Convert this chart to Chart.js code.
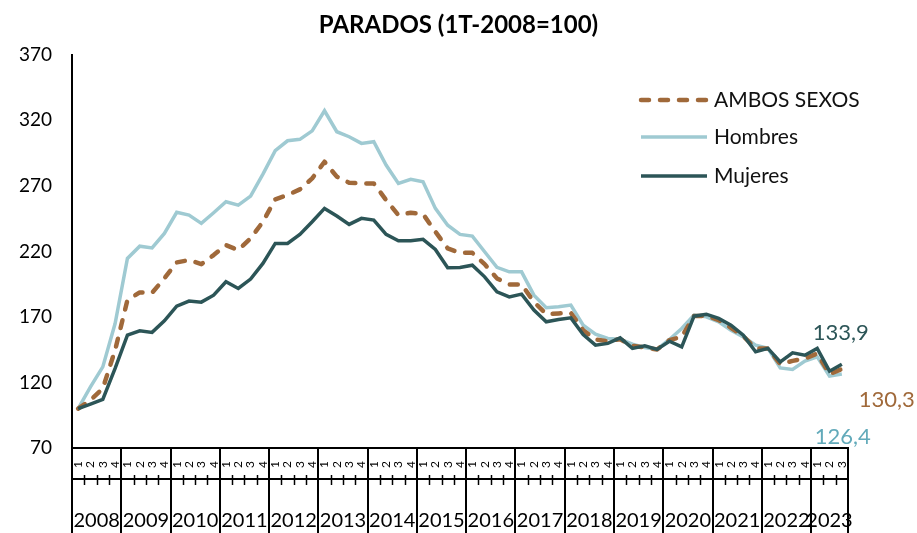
<!DOCTYPE html>
<html><head><meta charset="utf-8">
<script src="https://cdn.jsdelivr.net/npm/chart.js@4.4.0/dist/chart.umd.min.js"></script>
<style>html,body{margin:0;padding:0;background:#fff;}</style>
</head><body>
<canvas id="c" width="917" height="533"></canvas>
<script>
const years = ['2008','2009','2010','2011','2012','2013','2014','2015','2016','2017','2018','2019','2020','2021','2022','2023'];
const quarterCount = 63;
const quarterLabels = [];
for (let i = 0; i < quarterCount; i++) quarterLabels.push(String(i % 4 + 1));

const ambos = [100,106.5,115.4,144.7,182.8,188.7,188.4,199.4,211.6,213.4,
  210.3,217.2,224.8,221,229.9,242.6,259.7,263,267.3,275.7,
  288.4,277,272.4,271.9,271.9,259.2,247.7,249.5,248.5,235,
  222.3,218.9,218.9,210.3,199.4,194.8,194.8,181.5,172.1,172.7,
  173.1,159.9,152.8,151.5,153,148,146.7,145.2,152.3,154.8,
  170.8,170.8,167.6,161.7,155.3,146,146,134,136.5,138.3,
  142.1,126.3,130.3];
const hombres = [100,116.6,131.9,165,214.6,224,222.7,233.7,249.8,247.7,
  241.4,249.5,257.9,255.3,262.2,279,296.8,304.4,305.5,312,
  327.3,311.3,307.5,302.4,303.7,285.9,271.9,275,273.1,252.8,
  240,233,231.7,219.7,207.8,204.4,204.4,186.6,177,177.7,
  179,163.7,156.9,153.6,153,149.2,146.7,145.2,152.8,161.2,
  171.4,170.1,166.3,159.9,154.8,148.5,146,131.1,129.9,136.3,
  139.5,124.8,126.4];
const mujeres = [100,103.4,107,130.7,156.1,159.4,158.2,167,178.2,182.1,
  181.3,186.6,196.8,191.7,198.9,210.8,226.1,226.1,233,242.6,
  252.8,247,240.6,245.2,243.9,233,228.1,228.1,229.2,221.5,
  207.5,207.8,209.5,200.6,189.2,185.3,187.4,175.2,166.3,168.1,
  169.3,156.6,148.5,149.8,154,146,148,145.2,151.5,147.2,
  170.6,172.1,168.9,163.7,156.1,143.4,146,135.7,142.6,140.8,
  146,128.6,133.9];
const endLabels = ['130,3','126,4','133,9'];

const FONT = 'Lato, "Open Sans", sans-serif';
const C_AMBOS = '#A0693A', C_HOM = '#9FCAD2', C_MUJ = '#2C5557';

const decor = {
  id: 'decor',
  afterDraw(chart) {
    const ctx = chart.ctx, xs = chart.scales.x, ys = chart.scales.y;
    const n = chart.data.labels.length;
    const step = xs.getPixelForValue(1) - xs.getPixelForValue(0);
    const edge = i => xs.getPixelForValue(Math.min(i, n - 1)) + (i >= n ? step / 2 : -step / 2);
    const top = xs.top, bottom = chart.height, hy = top + 31;
    ctx.save();
    ctx.strokeStyle = '#000';
    ctx.lineWidth = 2;
    ctx.beginPath(); ctx.moveTo(edge(0), hy); ctx.lineTo(edge(n), hy); ctx.stroke();
    for (let k = 0; k <= years.length; k++) {
      const x = Math.round(edge(Math.min(4 * k, n)));
      ctx.beginPath(); ctx.moveTo(x, top); ctx.lineTo(x, bottom); ctx.stroke();
    }
    ctx.lineWidth = 1.5;
    for (let i = 1; i < n; i++) {
      if (i % 4 === 0) continue;
      const x = Math.round(edge(i)) + 0.5;
      ctx.beginPath(); ctx.moveTo(x, hy - 4); ctx.lineTo(x, hy + 6); ctx.stroke();
    }
    ctx.fillStyle = '#000';
    ctx.font = '20px ' + FONT;
    ctx.textAlign = 'center';
    ctx.textBaseline = 'middle';
    years.forEach((yr, k) => {
      const x = (edge(4 * k) + edge(Math.min(4 * k + 4, n))) / 2;
      ctx.fillText(yr, x, 521);
    });
    // legend
    const legY = [100, 137, 176];
    chart.data.datasets.forEach((ds, d) => {
      ctx.save();
      ctx.strokeStyle = ds.borderColor;
      ctx.lineWidth = ds.borderWidth;
      ctx.lineCap = ds.borderDash ? 'round' : 'butt';
      ctx.setLineDash(ds.borderDash || []);
      ctx.beginPath(); ctx.moveTo(641, legY[d]); ctx.lineTo(707, legY[d]); ctx.stroke();
      ctx.restore();
      ctx.fillStyle = '#111';
      ctx.font = '21px ' + FONT;
      ctx.textAlign = 'left';
      ctx.textBaseline = 'middle';
      ctx.fillText(ds.label, 714, legY[d]);
    });
    // end labels
    const lastX = xs.getPixelForValue(n - 1);
    const offs = [[45, 31, '#A0693A'], [1, 63, '#62AABA'], [-1, -31, '#2C5557']];
    chart.data.datasets.forEach((ds, d) => {
      const v = ds.data[n - 1];
      ctx.fillStyle = offs[d][2];
      ctx.font = '22px ' + FONT;
      ctx.textAlign = 'center';
      ctx.fillText(endLabels[d], lastX + offs[d][0], ys.getPixelForValue(v) + offs[d][1]);
    });
    ctx.restore();
  }
};

new Chart(document.getElementById('c'), {
  type: 'line',
  data: {
    labels: quarterLabels,
    datasets: [
      { label: 'AMBOS SEXOS', data: ambos, borderColor: C_AMBOS, borderWidth: 4.5, borderDash: [8, 11], borderCapStyle: 'round', borderJoinStyle: 'round', pointRadius: 0, order: 1 },
      { label: 'Hombres', data: hombres, borderColor: C_HOM, borderWidth: 3.5, pointRadius: 0, order: 2 },
      { label: 'Mujeres', data: mujeres, borderColor: C_MUJ, borderWidth: 3.5, pointRadius: 0, order: 0 }
    ]
  },
  options: {
    responsive: false,
    animation: false,
    devicePixelRatio: 1,
    layout: { padding: 0 },
    plugins: {
      legend: { display: false },
      tooltip: { enabled: false },
      title: { display: true, text: 'PARADOS (1T-2008=100)', color: '#000',
        font: { family: FONT, size: 24, weight: 'bold' }, padding: { top: 11, bottom: 15 } }
    },
    scales: {
      x: {
        type: 'category', offset: true,
        ticks: { autoSkip: false, minRotation: 90, maxRotation: 90, padding: 13, color: '#000', font: { family: FONT, size: 12 } },
        grid: { drawOnChartArea: false, drawTicks: false },
        border: { color: '#000', width: 2 },
        afterFit: s => { s.height = 85; }
      },
      y: {
        min: 70, max: 370,
        ticks: { stepSize: 50, padding: 20, color: '#000', font: { family: FONT, size: 19 } },
        grid: { drawOnChartArea: false, drawTicks: false },
        border: { color: '#000', width: 2 },
        afterFit: s => { s.width = 72; }
      },
      yRight: {
        position: 'right', min: 0, max: 1,
        ticks: { display: false },
        grid: { display: false, drawTicks: false },
        border: { display: false },
        afterFit: s => { s.width = 69; }
      }
    }
  },
  plugins: [decor]
});
</script>
</body></html>
